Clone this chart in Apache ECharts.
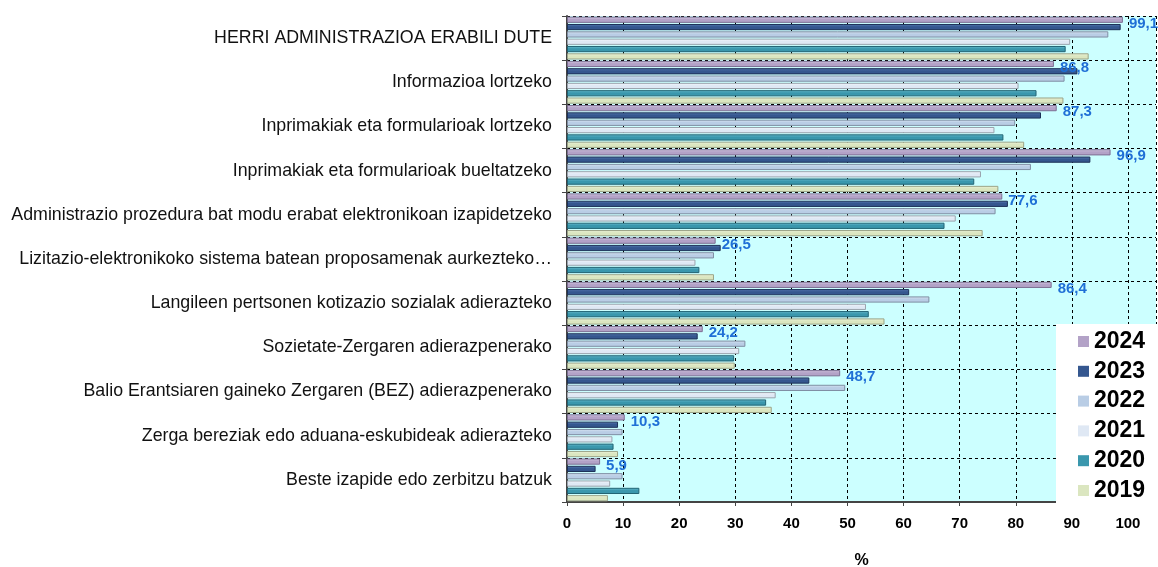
<html>
<head>
<meta charset="utf-8">
<title>Herri administrazioa</title>
<script src="https://cdn.jsdelivr.net/npm/echarts@6/dist/echarts.min.js"></script>
<style>
body { margin: 0; background: #fff; }
#chart { width: 1158px; height: 567px; }
</style>
</head>
<body>
<div id="chart"></div>
<script>
// kategoriak (goitik behera)
var categories = [
	'HERRI ADMINISTRAZIOA ERABILI DUTE',
	'Informazioa lortzeko',
	'Inprimakiak eta formularioak lortzeko',
	'Inprimakiak eta formularioak bueltatzeko',
	'Administrazio prozedura bat modu erabat elektronikoan izapidetzeko',
	'Lizitazio-elektronikoko sistema batean proposamenak aurkezteko…',
	'Langileen pertsonen kotizazio sozialak adierazteko',
	'Sozietate-Zergaren adierazpenerako',
	'Balio Erantsiaren gaineko Zergaren (BEZ) adierazpenerako',
	'Zerga bereziak edo aduana-eskubideak adierazteko',
	'Beste izapide edo zerbitzu batzuk'
];

var years = ['2024', '2023', '2022', '2021', '2020', '2019'];

var v2024 = [99.1, 86.8, 87.3, 96.9, 77.6, 26.5, 86.4, 24.2, 48.7, 10.3, 5.9];
var v2023 = [98.7, 91.0, 84.5, 93.3, 78.6, 27.4, 61.0, 23.3, 43.2, 9.1, 5.1];
var v2022 = [96.5, 88.7, 79.9, 82.7, 76.4, 26.2, 64.6, 31.8, 49.6, 9.9, 9.9];
var v2021 = [89.7, 80.5, 76.2, 73.8, 69.3, 22.9, 53.3, 30.7, 37.2, 8.1, 7.7];
var v2020 = [88.9, 83.7, 77.8, 72.6, 67.3, 23.6, 53.8, 29.8, 35.5, 8.3, 12.9];
var v2019 = [93.0, 88.5, 81.5, 76.9, 74.1, 26.2, 56.6, 29.9, 36.5, 9.1, 7.3];

var xTicks = [0, 10, 20, 30, 40, 50, 60, 70, 80, 90, 100];

var colors = ['#b3a2c7', '#35578f', '#b9cde5', '#dfe8f4', '#3a97ad', '#dbe6c0'];
var lights = ['#d6cbe3', '#5a7db6', '#dbe6f3', '#f6f9fd', '#6cc0d3', '#eef4dc'];
var borders = ['#7d6f93', '#1c3157', '#7f8ea3', '#9aa3ad', '#216474', '#9ba387'];

var values = [v2024, v2023, v2022, v2021, v2020, v2019];

var series = [];
for (var i = 0; i < years.length; i++) {
	var s = {
		name: years[i],
		type: 'bar',
		data: values[i],
		barGap: '18%',
		barCategoryGap: '3%',
		itemStyle: {
			// bevel itxura: goian argiago
			color: new echarts.graphic.LinearGradient(0, 0, 0, 1, [
				{ offset: 0, color: lights[i] },
				{ offset: 0.45, color: colors[i] },
				{ offset: 1, color: colors[i] }
			]),
			borderColor: borders[i], borderWidth: 1
		},
		emphasis: { disabled: true }
	};
	if (i == 0) {
		s.label = {
			show: true,
			position: 'right',
			distance: 6,
			offset: [0, 4],
			color: '#1f6fd6',
			fontFamily: 'Liberation Sans',
			fontWeight: 'bold',
			fontSize: 15,
			formatter: function (p) { return p.value.toFixed(1).replace('.', ','); }
		};
	}
	series.push(s);
}

var myChart = echarts.init(document.getElementById('chart'));
var option = {
	animation: false,
	textStyle: { fontFamily: 'Liberation Sans' },
	grid: {
		left: 567, right: 2, top: 16, bottom: 65,
		outerBoundsMode: 'none',
		show: true, backgroundColor: '#ccffff', borderWidth: 0
	},
	legend: {
		orient: 'vertical',
		left: 1056, top: 324,
		data: years.map(function (y, k) { return { name: y, itemStyle: { color: colors[k], borderWidth: 0 } }; }),
		backgroundColor: '#ffffff',
		padding: [6, 12, 6, 22],
		itemWidth: 11, itemHeight: 11, itemGap: 6.8,
		icon: 'rect',
		textStyle: { fontSize: 23, fontWeight: 'bold', color: '#000', lineHeight: 22.5 }
	},
	xAxis: {
		type: 'value',
		min: 0, max: 105, interval: 10,
		name: '%', nameLocation: 'middle', nameGap: 51,
		nameTextStyle: { fontSize: 16, fontWeight: 'bold', color: '#000' },
		axisLine: { show: true, lineStyle: { color: '#444', width: 2 } },
		axisTick: { show: true, length: 4, lineStyle: { color: '#444' } },
		axisLabel: {
			fontSize: 15, fontWeight: 'bold', color: '#000', margin: 14,
			formatter: function (v) { return xTicks.indexOf(v) >= 0 ? String(v) : ''; }
		},
		splitLine: { show: true, lineStyle: { color: '#000', type: [3, 3], width: 1 } }
	},
	yAxis: {
		type: 'category',
		data: categories,
		inverse: true,
		axisLine: { show: true, lineStyle: { color: '#444', width: 2 } },
		axisTick: { show: true, length: 5, lineStyle: { color: '#444' } },
		axisLabel: { fontSize: 17.8, color: '#111', margin: 15 },
		splitLine: { show: true, lineStyle: { color: '#000', type: [3, 3], width: 1 } }
	},
	series: series
};
myChart.setOption(option);
</script>
</body>
</html>
